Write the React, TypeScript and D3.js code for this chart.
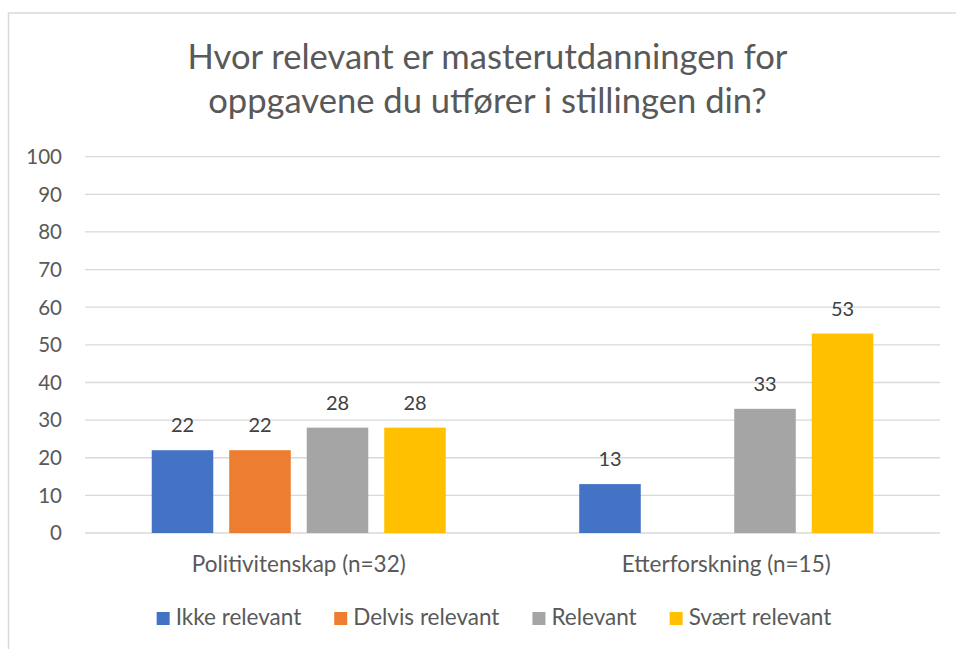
import React, { useEffect, useRef } from "react";
import * as d3 from "d3";

const titleLines = ["Hvor relevant er masterutdanningen for", "oppgavene du utfører i stillingen din?"];
const categories = ["Politivitenskap (n=32)", "Etterforskning (n=15)"];
const seriesNames = ["Ikke relevant", "Delvis relevant", "Relevant", "Svært relevant"];
const seriesColors = ["#4472C4", "#ED7D31", "#A5A5A5", "#FFC000"];
const ikkeRelevant = [22, 13];
const delvisRelevant: (number | null)[] = [22, null];
const relevant = [28, 33];
const sværtRelevant = [28, 53];
const yTicks = [0, 10, 20, 30, 40, 50, 60, 70, 80, 90, 100];

const W = 956;
const H = 649;
const FONT = "Lato, 'Open Sans', sans-serif";
const TEXT = "#595959";

export default function App() {
  const ref = useRef<SVGSVGElement | null>(null);

  useEffect(() => {
    document.body.style.margin = "0";
    const svg = d3.select(ref.current);
    svg.selectAll("*").remove();

    const values = [ikkeRelevant, delvisRelevant, relevant, sværtRelevant];

    // chart border (only left and top visible in frame)
    svg.append("rect")
      .attr("x", 8.5).attr("y", 13).attr("width", 970).attr("height", 660)
      .attr("fill", "white").attr("stroke", "#d9d9d9").attr("stroke-width", 1.5);

    // title
    const title = svg.append("text")
      .attr("x", 487.5).attr("text-anchor", "middle")
      .attr("font-family", FONT).attr("font-size", 34.6).attr("fill", TEXT);
    titleLines.forEach((l, i) => {
      title.append("tspan").attr("x", 487.5).attr("y", 69 + i * 44).text(l);
    });

    const left = 85, right = 940, top = 156.7, bottom = 533;
    const y = d3.scaleLinear().domain([0, 100]).range([bottom, top]);
    const x0 = d3.scaleBand<string>().domain(categories).range([left, right]).paddingInner(0).paddingOuter(0);
    const x1 = d3.scaleBand<string>().domain(seriesNames).range([0, x0.bandwidth()])
      .paddingInner(0.206).paddingOuter(0.861);

    // gridlines
    svg.append("g").selectAll("line").data(yTicks).join("line")
      .attr("x1", left).attr("x2", right)
      .attr("y1", d => y(d)).attr("y2", d => y(d))
      .attr("stroke", "#d9d9d9").attr("stroke-width", 1.3);

    // y tick labels
    svg.append("g").selectAll("text").data(yTicks).join("text")
      .attr("x", 62).attr("y", d => y(d)).attr("dy", "0.36em")
      .attr("text-anchor", "end").attr("font-family", FONT).attr("font-size", 20.5)
      .attr("fill", TEXT).text(d => String(d));

    // bars + labels
    seriesNames.forEach((s, si) => {
      const g = svg.append("g");
      const data = categories.map((c, ci) => ({ c, v: values[si][ci] })).filter(d => d.v !== null) as { c: string; v: number }[];
      g.selectAll("rect").data(data).join("rect")
        .attr("x", d => (x0(d.c) as number) + (x1(s) as number))
        .attr("y", d => y(d.v))
        .attr("width", x1.bandwidth())
        .attr("height", d => y(0) - y(d.v))
        .attr("fill", seriesColors[si]);
      g.selectAll("text").data(data).join("text")
        .attr("x", d => (x0(d.c) as number) + (x1(s) as number) + x1.bandwidth() / 2)
        .attr("y", d => y(d.v) - 18)
        .attr("text-anchor", "middle").attr("font-family", FONT).attr("font-size", 20)
        .attr("fill", "#404040").text(d => String(Math.round(d.v)));
    });

    // category labels
    svg.append("g").selectAll("text").data(categories).join("text")
      .attr("x", d => (x0(d) as number) + x0.bandwidth() / 2).attr("y", 571.5)
      .attr("text-anchor", "middle").attr("font-family", FONT).attr("font-size", 22.5)
      .attr("fill", TEXT).text(d => d);

    // legend
    const lg = svg.append("g");
    const items = seriesNames.map((s, i) => {
      const gi = lg.append("g");
      gi.append("rect").attr("width", 13).attr("height", 13).attr("y", -13).attr("fill", seriesColors[i]);
      const t = gi.append("text").attr("x", 19).attr("font-family", FONT).attr("font-size", 22.5)
        .attr("fill", TEXT).text(s);
      const w = (t.node() as SVGTextElement).getComputedTextLength();
      return { gi, w: 19 + w };
    });
    const gap = 33;
    const total = d3.sum(items, d => d.w) + gap * (items.length - 1);
    let cx = 494 - total / 2;
    items.forEach(it => {
      it.gi.attr("transform", `translate(${cx},625)`);
      cx += it.w + gap;
    });
  }, []);

  return (
    <svg ref={ref} width={W} height={H} style={{ display: "block", position: "absolute", left: 0, top: 0 }} />
  );
}
